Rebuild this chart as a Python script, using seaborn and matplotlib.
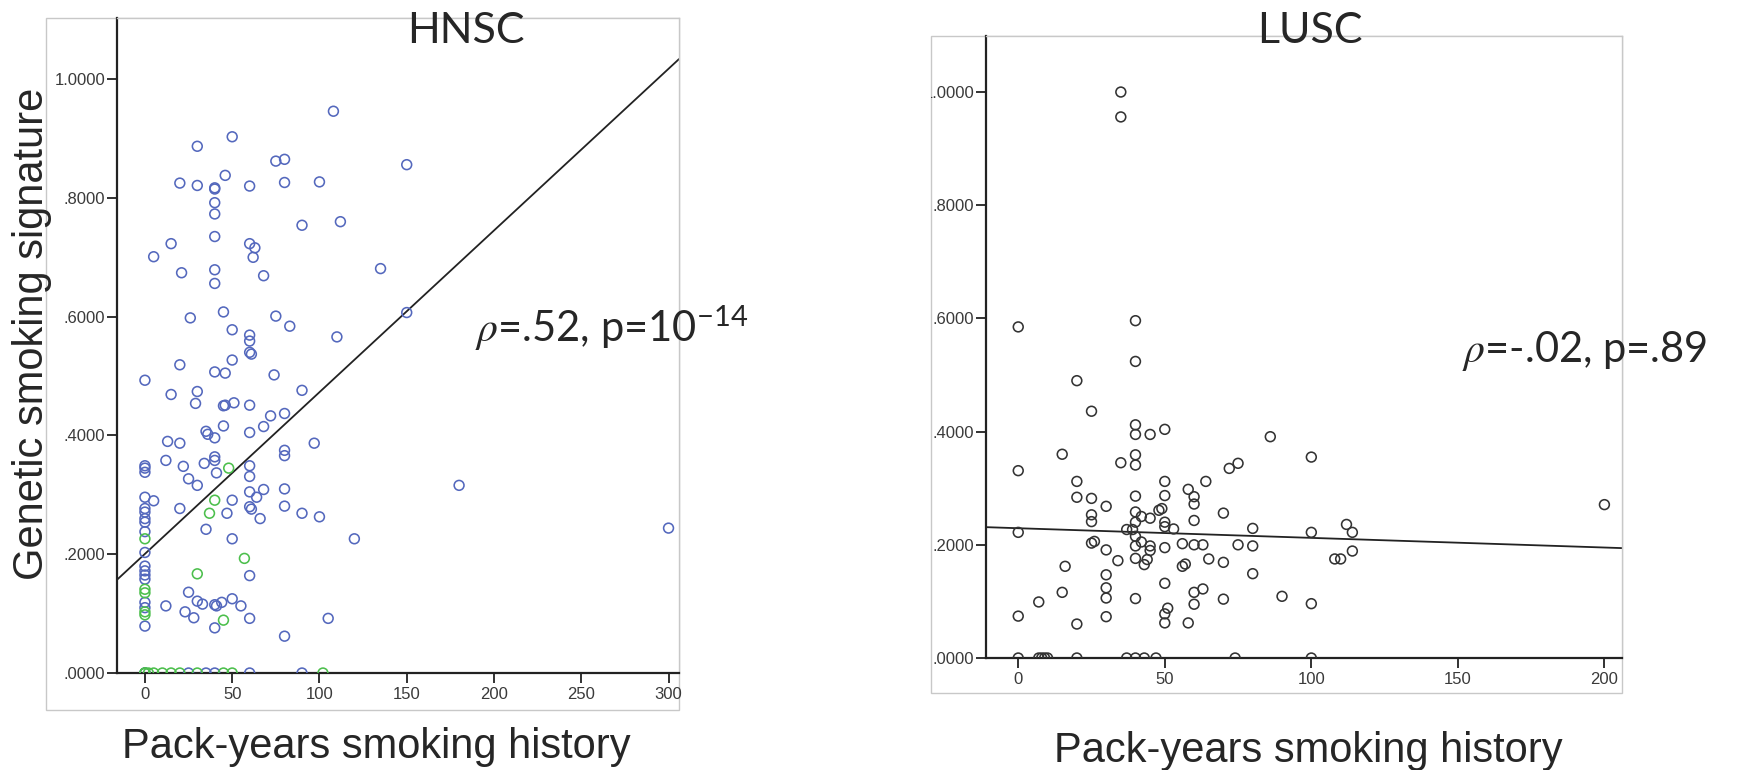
import numpy as np
import pandas as pd
import matplotlib
matplotlib.use("Agg")
import matplotlib.pyplot as plt
import seaborn as sns
from matplotlib.patches import Rectangle
from matplotlib.transforms import Bbox, TransformedBbox
from matplotlib.ticker import FuncFormatter, FixedLocator

# ---------------- data ----------------
hnsc_blue_x = [108, 50, 30, 75, 80, 150, 46, 20, 30, 40, 40, 60, 80, 100, 40, 40, 90, 112, 40, 15,
               60, 63, 5, 62, 21, 40, 68, 135, 40, 45, 26, 75, 150, 50, 83, 110, 60, 60, 60, 61,
               50, 20, 40, 46, 74, 0, 90, 15, 30,
               29, 45, 46, 51, 60, 72, 80, 68, 45, 60, 35, 36, 40, 13, 20, 97, 40, 40, 80, 80,
               12, 34, 22, 0, 0, 0, 60, 41, 60, 25, 30, 180, 80, 68, 60, 64, 50, 0, 5, 0,
               0, 20, 60, 61, 80, 47, 90, 100, 66, 0, 0, 35, 0, 50, 120, 0, 0, 0, 0, 0,
               60, 25, 30, 33, 40, 41, 44, 50, 55, 12, 0, 0, 23, 28, 60, 105, 0, 40, 80, 300,
               0, 0, 25, 35, 40, 60, 90]
hnsc_blue_y = [0.946, 0.903, 0.887, 0.862, 0.865, 0.856, 0.838, 0.825, 0.821, 0.815, 0.817, 0.820,
               0.826, 0.827, 0.792, 0.773, 0.754, 0.760, 0.735, 0.723, 0.723, 0.716, 0.701, 0.700,
               0.674, 0.679, 0.669, 0.681, 0.656, 0.608, 0.598, 0.601, 0.607, 0.578, 0.584, 0.566,
               0.569, 0.559, 0.540, 0.537, 0.527, 0.519, 0.507, 0.505, 0.502, 0.493, 0.476, 0.469,
               0.474,
               0.454, 0.450, 0.451, 0.455, 0.451, 0.433, 0.437, 0.415, 0.416, 0.405, 0.407, 0.402,
               0.396, 0.390, 0.387, 0.387, 0.364, 0.358, 0.375, 0.366, 0.358, 0.353, 0.348, 0.349,
               0.345, 0.338, 0.349, 0.337, 0.331, 0.327, 0.316, 0.316, 0.310, 0.309, 0.305, 0.296,
               0.291, 0.296, 0.290, 0.277, 0.271, 0.277, 0.280, 0.276, 0.281, 0.269, 0.269, 0.263,
               0.260, 0.260, 0.254, 0.242, 0.238, 0.226, 0.226, 0.203, 0.180, 0.172, 0.165, 0.158,
               0.164, 0.136, 0.121, 0.116, 0.115, 0.113, 0.119, 0.125, 0.113, 0.113, 0.119, 0.110,
               0.103, 0.093, 0.092, 0.092, 0.079, 0.076, 0.062, 0.244,
               0.0, 0.0, 0.0, 0.0, 0.0, 0.0, 0.0]
hnsc_green_x = [48, 40, 37, 0, 57, 30, 0, 0, 0, 0, 45, 0, 0, 2, 5, 10, 15, 20, 30, 45, 50, 102]
hnsc_green_y = [0.345, 0.291, 0.269, 0.226, 0.193, 0.167, 0.141, 0.135, 0.103, 0.098, 0.089,
                0.0, 0.0, 0.0, 0.0, 0.0, 0.0, 0.0, 0.0, 0.0, 0.0, 0.0]

lusc_x = [35, 35, 0, 40, 40, 20, 25, 40, 40, 45, 50, 86, 100, 0, 15, 35, 40, 40, 72, 75,
          20, 50, 64, 20, 25, 40, 50, 58, 60, 60, 30, 25, 25, 40, 40, 42, 45, 48, 49, 50,
          50, 53, 60, 70, 80, 100, 0, 37, 39, 40, 42, 40, 40, 45, 45, 44, 43, 50, 25, 26,
          30, 34, 56, 60, 63, 65, 56, 57, 70, 75, 80, 80, 16, 30, 50, 30, 30, 15, 7, 40,
          60, 60, 63, 70, 90, 100, 0, 30, 51, 50, 50, 58, 20, 112, 114, 114, 108, 110, 200,
          0, 7, 8, 9, 10, 20, 37, 40, 43, 47, 74, 100]
lusc_y = [1.000, 0.956, 0.585, 0.596, 0.524, 0.490, 0.436, 0.412, 0.395, 0.395, 0.404, 0.391,
          0.355, 0.331, 0.360, 0.345, 0.359, 0.341, 0.335, 0.344, 0.312, 0.312, 0.312, 0.284,
          0.282, 0.286, 0.287, 0.298, 0.285, 0.272, 0.268, 0.253, 0.241, 0.258, 0.240, 0.250,
          0.247, 0.261, 0.264, 0.240, 0.232, 0.228, 0.243, 0.256, 0.229, 0.222, 0.222, 0.227,
          0.227, 0.215, 0.205, 0.198, 0.176, 0.198, 0.190, 0.174, 0.165, 0.195, 0.203, 0.206,
          0.191, 0.172, 0.202, 0.200, 0.200, 0.175, 0.162, 0.166, 0.169, 0.200, 0.198, 0.149,
          0.162, 0.147, 0.132, 0.124, 0.106, 0.116, 0.099, 0.105, 0.116, 0.095, 0.122, 0.104,
          0.109, 0.096, 0.074, 0.073, 0.088, 0.078, 0.062, 0.062, 0.060, 0.236, 0.222, 0.189,
          0.175, 0.175, 0.271,
          0.0, 0.0, 0.0, 0.0, 0.0, 0.0, 0.0, 0.0, 0.0, 0.0, 0.0, 0.0]

# fit lines (intercept, slope) as drawn in the source figure
hnsc_fit = (0.2006, 0.002723)
lusc_fit = (0.2293, -0.0001705)

hnsc_xticks = [0, 50, 100, 150, 200, 250, 300]
lusc_xticks = [0, 50, 100, 150, 200]
yticks = [0.0, 0.2, 0.4, 0.6, 0.8, 1.0]

titles = ["HNSC", "LUSC"]
stat_texts = [r"$\rho$=.52, p=10$^{\mathregular{-14}}$", r"$\rho$=-.02, p=.89"]
xlabel = "Pack-years smoking history"
ylabel = "Genetic smoking signature"

# ---------------- style ----------------
sns.set_style("white")
plt.rcParams['font.family'] = ['Liberation Sans', 'DejaVu Sans']
plt.rcParams['mathtext.fontset'] = 'stix'

W, H = 1752, 770
fig = plt.figure(figsize=(W / 100, H / 100), dpi=100)


def fx(px):
    return px / W


def fy(py):
    return 1 - py / H


def add_panel(left, right, top, bottom, fl, fb):
    ax = fig.add_axes([fx(left), fy(bottom), fx(right - left), (bottom - top) / H])
    # outer (chart-frame) rectangle
    fig.add_artist(Rectangle((fx(fl), fy(fb)), fx(right - fl), (fb - top) / H,
                             transform=fig.transFigure, fill=False,
                             ec='#c8c8c8', lw=1.0, zorder=0))
    frame_bbox = TransformedBbox(Bbox([[fx(fl), fy(fb)], [fx(right), fy(top)]]),
                                 fig.transFigure)
    return ax, frame_bbox


BLUE = '#5468bd'
GREEN = '#4cbf4c'
DARK = '#333333'

axL, bbL = add_panel(117, 679, 18, 673, 46, 710)
axR, bbR = add_panel(986, 1622, 36, 658, 931, 693)

mk = dict(marker='o', s=50, linewidth=1.15, facecolors='none', legend=False, zorder=3)
sns.scatterplot(x=hnsc_blue_x, y=hnsc_blue_y, ax=axL, color=BLUE, edgecolor=BLUE, **mk)
sns.scatterplot(x=hnsc_green_x, y=hnsc_green_y, ax=axL, color=GREEN, edgecolor=GREEN, **mk)
sns.scatterplot(x=lusc_x, y=lusc_y, ax=axR, color=DARK, edgecolor=DARK, **mk)

panels = [(axL, bbL, (-16, 306), (0, 1.103), hnsc_xticks, hnsc_fit),
          (axR, bbR, (-11, 206), (0, 1.099), lusc_xticks, lusc_fit)]

for ax, bb, xl, yl, xt, fit in panels:
    xs = np.array(xl, dtype=float)
    sns.lineplot(x=xs, y=fit[0] + fit[1] * xs, ax=ax, color='#222222', lw=1.3, zorder=2)
    ax.set_xlim(*xl)
    ax.set_ylim(*yl)
    ax.set_xlabel('')
    ax.set_ylabel('')
    ax.xaxis.set_major_locator(FixedLocator(xt))
    ax.yaxis.set_major_locator(FixedLocator(yticks))
    ax.yaxis.set_major_formatter(FuncFormatter(
        lambda v, p: f"{v:.4f}" if v >= 1 else f"{v:.4f}".lstrip('0')))
    for s in ['left', 'bottom']:
        ax.spines[s].set_color('#222222')
        ax.spines[s].set_linewidth(1.6)
    for s in ['top', 'right']:
        ax.spines[s].set_color('#c8c8c8')
        ax.spines[s].set_linewidth(1.0)
    ax.tick_params(axis='both', direction='out', length=7, width=1.3, color='#222222',
                   labelsize=12, labelcolor='#3a3a3a', left=True, bottom=True)
    ax.tick_params(axis='y', pad=1.5)
    ax.tick_params(axis='x', pad=3)
    ax.set_facecolor('white')
    for lbl in ax.get_yticklabels():
        lbl.set_clip_box(bb)
        lbl.set_clip_on(True)

# titles
fig.text(fx(466), fy(43), titles[0], family='Lato', size=31, ha='center', va='baseline')
fig.text(fx(1310), fy(43), titles[1], family='Lato', size=31, ha='center', va='baseline')

# statistics
fig.text(fx(475), fy(342), stat_texts[0], family='Lato', size=30, ha='left', va='baseline')
fig.text(fx(1462), fy(362), stat_texts[1], family='Lato', size=30, ha='left', va='baseline')

# axis labels
fig.text(fx(32), fy(334), ylabel, size=30, rotation=90, ha='center', va='center')
fig.text(fx(376), fy(758), xlabel, size=30, ha='center', va='baseline')
fig.text(fx(1308), fy(762), xlabel, size=30, ha='center', va='baseline')

fig.savefig('out.png', dpi=100)
